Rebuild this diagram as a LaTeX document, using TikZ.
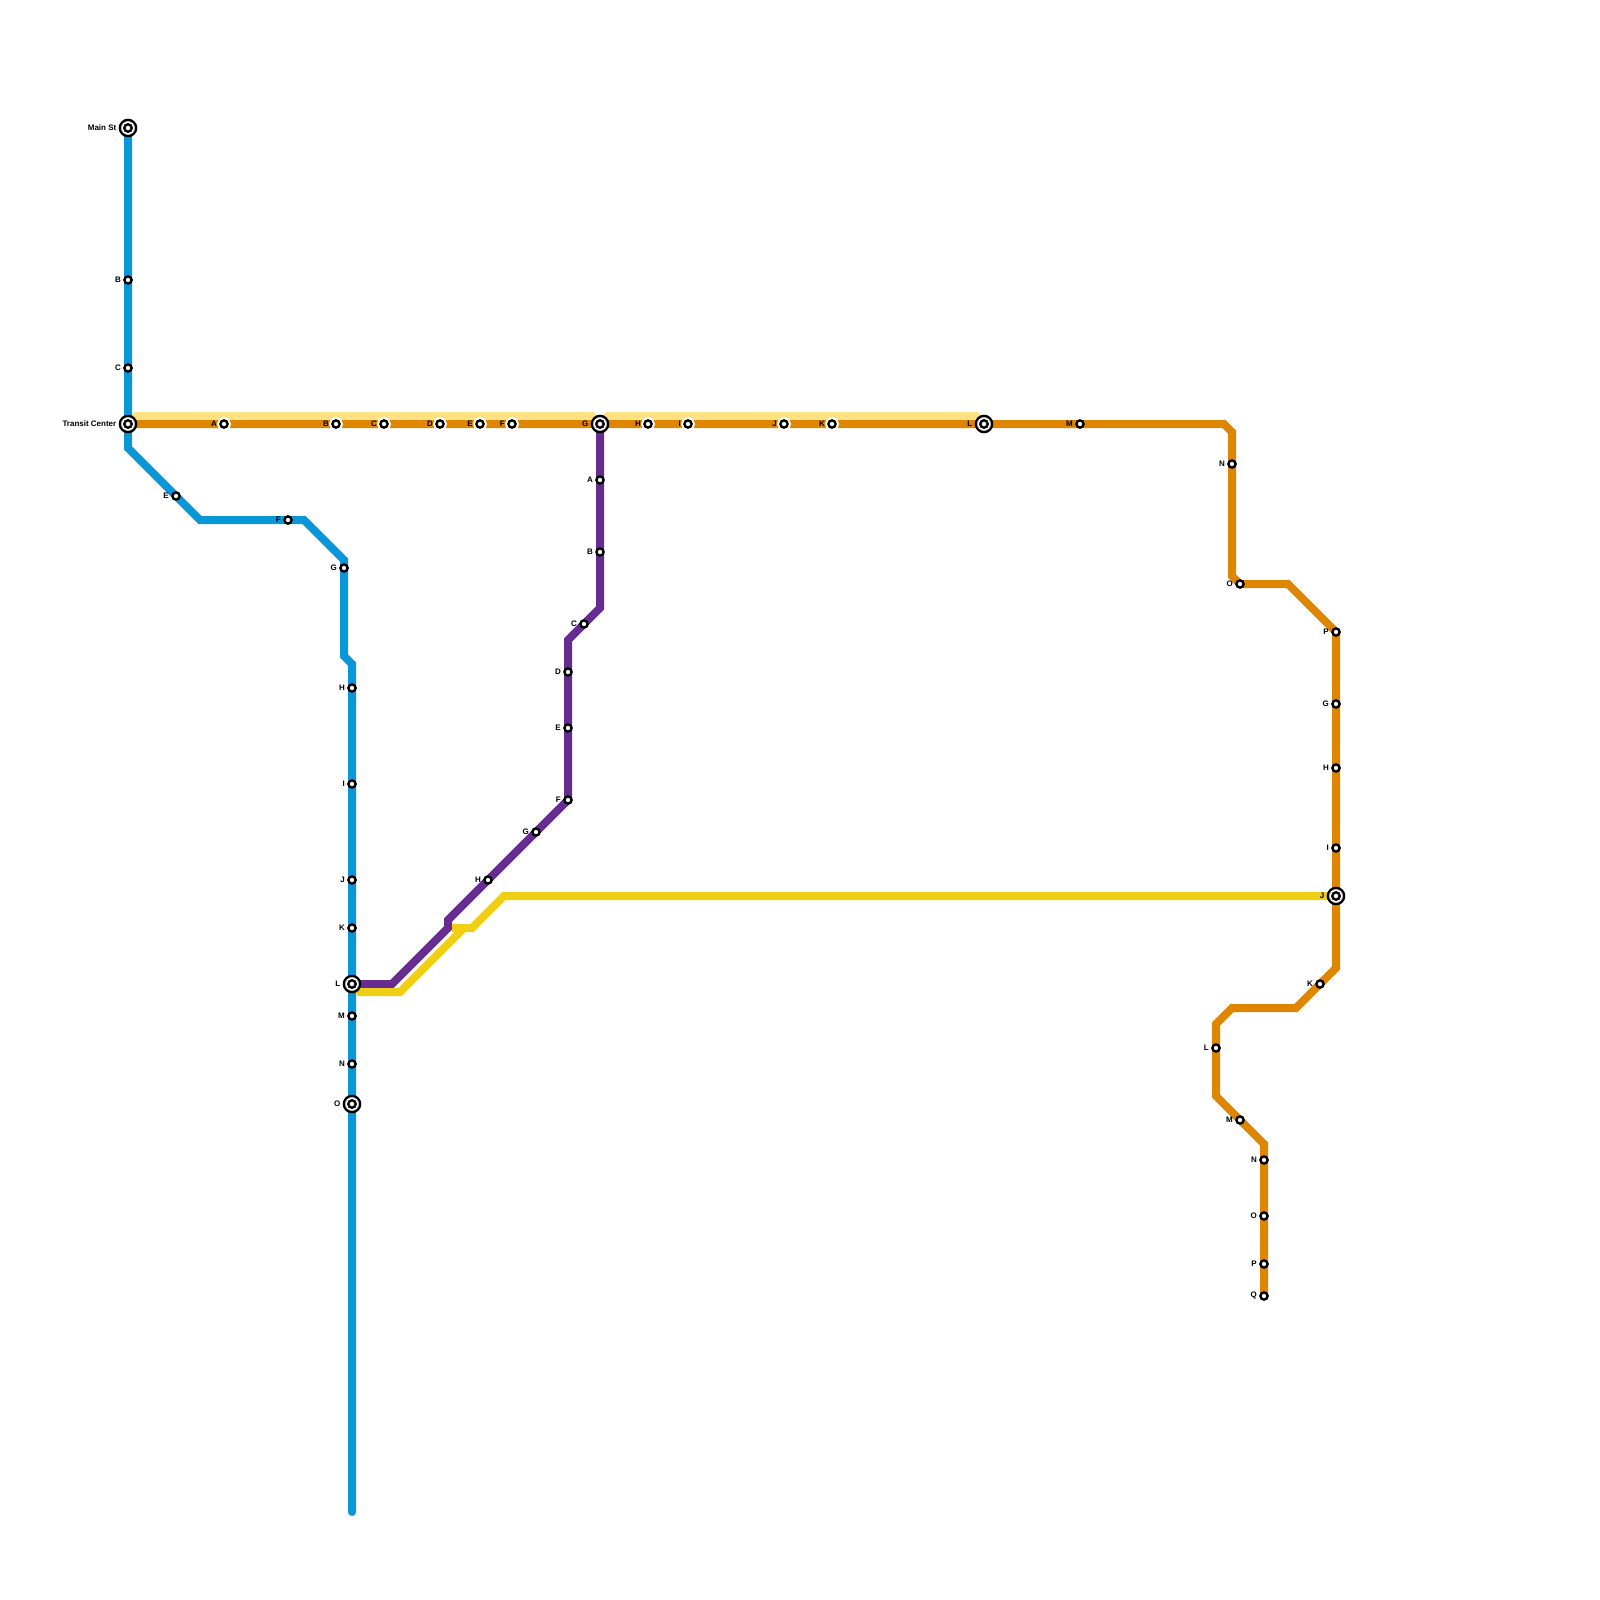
\documentclass[tikz,border=0pt]{standalone}
\usepackage{fontspec}
\setmainfont{Liberation Sans}
\usetikzlibrary{backgrounds}
\definecolor{blueline}{HTML}{0A97D9}
\definecolor{orangeline}{HTML}{DF8600}
\definecolor{paleline}{HTML}{FFE082}
\definecolor{purpleline}{HTML}{662C90}
\definecolor{yellowline}{HTML}{F0CE15}
\tikzset{
  route/.style={line width=8pt, line join=miter, line cap=round},
  every label/.style={font=\fontsize{8}{9}\selectfont\bfseries, inner sep=2.2pt, yshift=0.5pt},
  stop/.style={circle, draw=black, line width=2.4pt, fill=white, inner sep=0pt, minimum size=7.2pt},
  stopcut/.style={stop, preaction={draw=white, line width=6.5pt}},
  hub/.style={stop, minimum size=16.2pt,
    path picture={\draw[black, line width=2.4pt] (path picture bounding box.center) circle (3.7pt);}}
}

\begin{document}
\begin{tikzpicture}[x=1pt, y=-1pt]
  \useasboundingbox (0,0) rectangle (1600,1600);

  % blue stations
  \node[hub, label=left:Main St] (bMain) at (128,128) {};
  \node[stop, label=left:B] (bB) at (128,280) {};
  \node[stop, label=left:C] (bC) at (128,368) {};
  \node[hub, label=left:Transit Center] (bTransit) at (128,424) {};
  \node[stop, label=left:E] (bE) at (176,496) {};
  \node[stop, label=left:F] (bF) at (288,520) {};
  \node[stop, label=left:G] (bG) at (344,568) {};
  \node[stop, label=left:H] (bH) at (352,688) {};
  \node[stop, label=left:I] (bI) at (352,784) {};
  \node[stop, label=left:J] (bJ) at (352,880) {};
  \node[stop, label=left:K] (bK) at (352,928) {};
  \node[hub, label=left:L] (bL) at (352,984) {};
  \node[stop, label=left:M] (bM) at (352,1016) {};
  \node[stop, label=left:N] (bN) at (352,1064) {};
  \node[hub, label=left:O] (bO) at (352,1104) {};
  \coordinate (bEnd) at (352,1512);

  % orange stations
  \node[stopcut, label=left:A] (oA) at (224,424) {};
  \node[stopcut, label=left:B] (oB) at (336,424) {};
  \node[stopcut, label=left:C] (oC) at (384,424) {};
  \node[stopcut, label=left:D] (oD) at (440,424) {};
  \node[stopcut, label=left:E] (oE) at (480,424) {};
  \node[stopcut, label=left:F] (oF) at (512,424) {};
  \node[hub, label=left:G] (oG) at (600,424) {};
  \node[stopcut, label=left:H] (oH) at (648,424) {};
  \node[stopcut, label=left:I] (oI) at (688,424) {};
  \node[stopcut, label=left:J] (oJ) at (784,424) {};
  \node[stopcut, label=left:K] (oK) at (832,424) {};
  \node[hub, label=left:L] (oL) at (984,424) {};
  \node[stop, label=left:M] (oM) at (1080,424) {};
  \node[stop, label=left:N] (oN) at (1232,464) {};
  \node[stop, label=left:O] (oO) at (1240,584) {};
  \node[stop, label=left:P] (oP) at (1336,632) {};
  \node[stop, label=left:G] (oG2) at (1336,704) {};
  \node[stop, label=left:H] (oH2) at (1336,768) {};
  \node[stop, label=left:I] (oI2) at (1336,848) {};
  \node[hub, label=left:J] (oJ2) at (1336,896) {};
  \node[stop, label=left:K] (oK2) at (1320,984) {};
  \node[stop, label=left:L] (oL2) at (1216,1048) {};
  \node[stop, label=left:M] (oM2) at (1240,1120) {};
  \node[stop, label=left:N] (oN2) at (1264,1160) {};
  \node[stop, label=left:O] (oO2) at (1264,1216) {};
  \node[stop, label=left:P] (oP2) at (1264,1264) {};
  \node[stop, label=left:Q] (oQ2) at (1264,1296) {};

  % purple stations
  \node[stop, label=left:A] (pA) at (600,480) {};
  \node[stop, label=left:B] (pB) at (600,552) {};
  \node[stop, label=left:C] (pC) at (584,624) {};
  \node[stop, label=left:D] (pD) at (568,672) {};
  \node[stop, label=left:E] (pE) at (568,728) {};
  \node[stop, label=left:F] (pF) at (568,800) {};
  \node[stop, label=left:G] (pG) at (536,832) {};
  \node[stop, label=left:H] (pH) at (488,880) {};

  \begin{scope}[on background layer]
    \draw[route, paleline] (bTransit.center) -- (136,416) -- (592,416) -- (oG.center);
    \draw[route, paleline] (oG.center) -- (608,416) -- (976,416) -- (oL.center);
    \draw[route, blueline] (bMain.center) -- (128,448) -- (200,520) -- (304,520) -- (344,560) -- (344,656) -- (352,664) -- (bEnd);
    \draw[route, orangeline] (bTransit.center) -- (1224,424) -- (1232,432) -- (1232,576) -- (oO.center) -- (1288,584) -- (1336,632) -- (1336,968) -- (1296,1008) -- (1232,1008) -- (1216,1024) -- (1216,1096) -- (1264,1144) -- (oQ2.center);
    \draw[route, purpleline] (oG.center) -- (600,608) -- (568,640) -- (pF.center) -- (448,920) -- (448,928) -- (392,984) -- (bL.center);
    \draw[route, yellowline] (bL.center) -- (360,992) -- (400,992) -- (464,928) -- (452,928) -- (472,928) -- (504,896) -- (oJ2.center);
  \end{scope}
\end{tikzpicture}
\end{document}
